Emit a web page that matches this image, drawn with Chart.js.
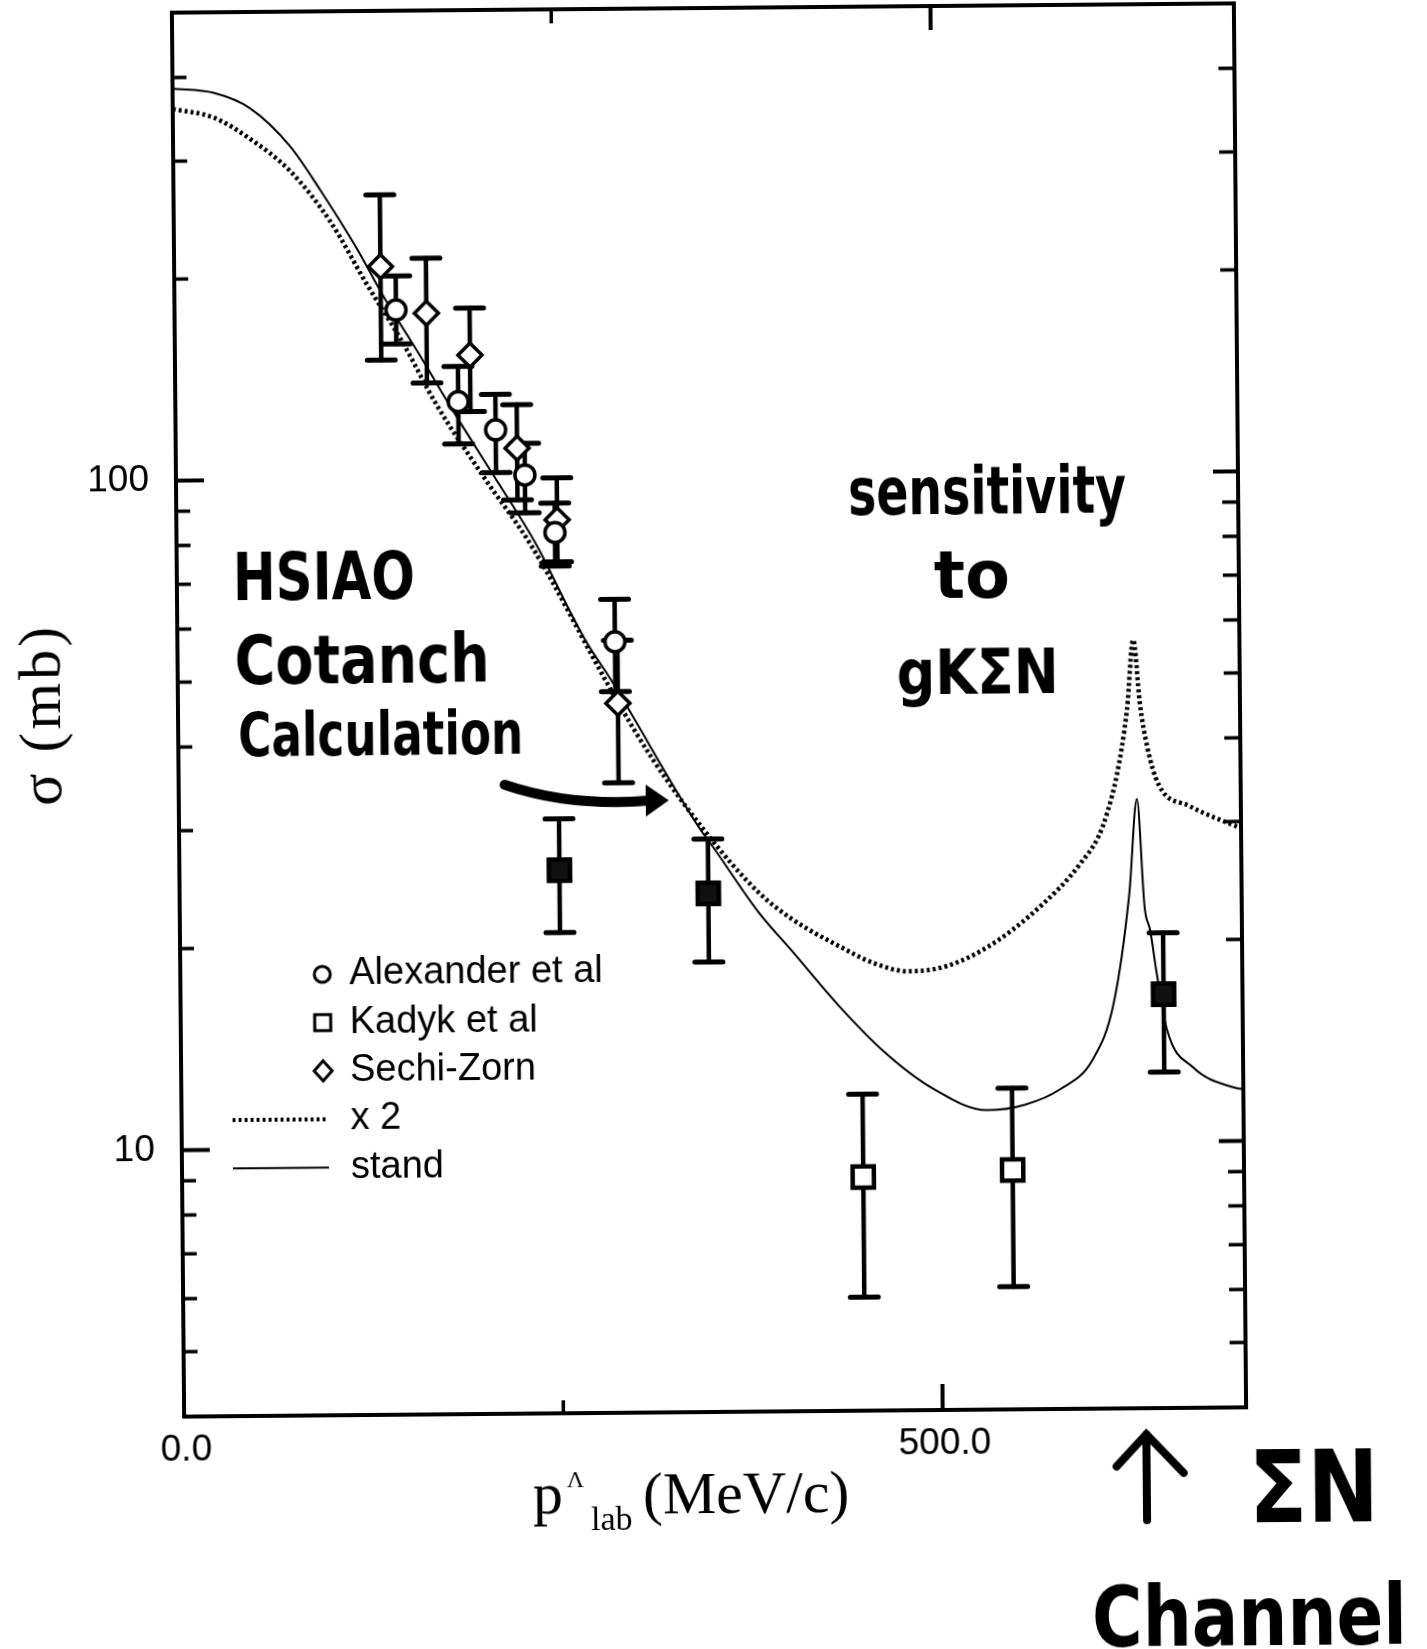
<!DOCTYPE html>
<html>
<head>
<meta charset="utf-8">
<title>Lambda p cross section</title>
<script src="https://cdn.jsdelivr.net/npm/chart.js@4.4.1/dist/chart.umd.min.js"></script>
<style>
  html, body { margin: 0; padding: 0; background: #fff; overflow: hidden; }
  #plot { position: absolute; left: 0; top: 0; transform: rotate(-0.5deg); transform-origin: 709px 710px; }
</style>
</head>
<body>
<canvas id="plot" width="1460" height="1700"></canvas>
<script>
// model curves, sigma (mb) against p_lab (MeV/c)
const standP = [0, 27, 51, 77, 97, 121, 138, 162, 184, 208, 237, 259, 270, 285, 343, 352, 382, 404, 434, 464, 495, 531, 556, 579, 601, 615, 626, 631.5, 636, 639.5, 643.5, 650, 667, 695, 700]
const standSigma = [385, 379, 359, 315, 270, 220, 187, 152, 125, 102, 79.5, 63, 56.5, 50, 29.8, 27.9, 22.2, 19.4, 16.1, 13.7, 12.1, 11.2, 11.4, 12.0, 13.3, 16.1, 23.5, 32.5, 22.4, 20.7, 17.9, 14.7, 12.9, 12.0, 11.95]

const doubleP = [0, 27, 51, 77, 103, 126, 150, 172, 202, 234, 289, 313, 347, 382, 404, 434, 458, 480, 505, 538, 580, 594, 606, 612, 618.5, 625.5, 630, 634, 638.5, 646, 666, 700]
const doubleSigma = [359, 348, 323, 289, 243, 197, 160, 129, 101, 79, 46.5, 37.7, 29.4, 23.8, 21.7, 19.8, 18.6, 18.1, 18.4, 20.0, 24.0, 26.1, 28.6, 31.1, 35.4, 44.2, 56.2, 45.2, 39, 34.1, 31.7, 29.3]

// measurements with error limits
const alexP = [146, 186.5, 211, 230, 249.5, 288.4]
const alexSigma = [178.6, 130.1, 117.9, 100.9, 82.7, 56.7]
const alexLo = [158.9, 112.5, 101.8, 88.6, 73.7, 47.8]
const alexHi = [200.9, 146.8, 133.3, 112.5, 91.5, 65.6]

const kadykP = [250.5, 348.5, 449, 547.5, 648]
const kadykSigma = [25.9, 23.8, 8.93, 9.11, 16.6]
const kadykLo = [20.9, 18.8, 5.91, 6.10, 12.7]
const kadykHi = [30.9, 28.7, 11.88, 12.07, 20.5]

const sechiP = [136, 166, 194.5, 225, 251, 290]
const sechiSigma = [207.5, 176.5, 152.7, 110.7, 86.4, 45.9]
const sechiLo = [150.5, 138.9, 125.7, 92.6, 74.8, 34.9]
const sechiHi = [265.5, 213.3, 179.4, 128.5, 99.8, 57]

const seriesNames = ['Alexander et al', 'Kadyk et al', 'Sechi-Zorn', 'x 2', 'stand']

// axes
const yMajor = [10, 100]
const yMajorLabels = ['10', '100']
const yMinor = [5, 6, 7, 8, 9, 20, 30, 40, 50, 60, 70, 80, 90, 200, 300, 400]
const xLabelled = [0, 500]
const xLabels = ['0.0', '500.0']
const xMajor = [500]
const xMinor = [250]

const pts = (xs, ys) => xs.map((x, i) => ({ x: x, y: ys[i] }))

function errorBars(ctx, xs, ys, p, lo, hi) {
  p.forEach((v, i) => {
    const px = xs.getPixelForValue(v)
    const top = ys.getPixelForValue(hi[i])
    const bot = ys.getPixelForValue(lo[i])
    ctx.lineWidth = 4.5
    ctx.beginPath(); ctx.moveTo(px, top); ctx.lineTo(px, bot); ctx.stroke()
    ctx.lineWidth = 5
    ctx.beginPath()
    ctx.moveTo(px - 14, top); ctx.lineTo(px + 14, top)
    ctx.moveTo(px - 14, bot); ctx.lineTo(px + 14, bot)
    ctx.stroke()
  })
}

function line(ctx, x1, y1, x2, y2) {
  ctx.beginPath(); ctx.moveTo(x1, y1); ctx.lineTo(x2, y2); ctx.stroke()
}

// marker-pen lettering, squeezed to the width it was written at
function hand(ctx, text, x, base, width, size) {
  ctx.save()
  ctx.font = 'bold ' + size + 'px "DejaVu Sans"'
  const w = ctx.measureText(text).width
  ctx.translate(x, base)
  ctx.scale(width / w, 1)
  ctx.textAlign = 'left'
  ctx.textBaseline = 'alphabetic'
  ctx.fillText(text, 0, 0)
  ctx.restore()
}

const framePlugin = {
  id: 'frame',
  beforeDatasetsDraw(chart) {
    const ctx = chart.ctx, xs = chart.scales.x, ys = chart.scales.y
    ctx.save()
    ctx.strokeStyle = '#000'
    ctx.lineCap = 'round'
    errorBars(ctx, xs, ys, alexP, alexLo, alexHi)
    errorBars(ctx, xs, ys, kadykP, kadykLo, kadykHi)
    errorBars(ctx, xs, ys, sechiP, sechiLo, sechiHi)
    ctx.restore()
  },
  afterDraw(chart) {
    const ctx = chart.ctx, xs = chart.scales.x, ys = chart.scales.y
    const { left, right, top, bottom } = chart.chartArea
    ctx.save()
    ctx.strokeStyle = '#000'
    ctx.fillStyle = '#000'

    // box and inward ticks
    ctx.lineWidth = 4
    ctx.strokeRect(left, top, right - left, bottom - top)
    yMajor.forEach(v => {
      const py = ys.getPixelForValue(v)
      line(ctx, left, py, left + 28, py)
      line(ctx, right, py, right - 25, py)
    })
    ctx.lineWidth = 3.5
    yMinor.forEach(v => {
      const py = ys.getPixelForValue(v)
      line(ctx, left, py, left + 14, py)
      line(ctx, right, py, right - 16, py)
    })
    ctx.lineWidth = 4
    xMajor.forEach(v => {
      const px = xs.getPixelForValue(v)
      line(ctx, px, bottom, px, bottom - 26)
      line(ctx, px, top, px, top + 24)
    })
    ctx.lineWidth = 3.5
    xMinor.forEach(v => {
      const px = xs.getPixelForValue(v)
      line(ctx, px, bottom, px, bottom - 13)
      line(ctx, px, top, px, top + 14)
    })

    // tick labels
    ctx.font = '37px "Liberation Sans", Arial'
    ctx.textAlign = 'right'
    ctx.textBaseline = 'middle'
    yMajor.forEach((v, i) => ctx.fillText(yMajorLabels[i], left - 27, ys.getPixelForValue(v)))
    ctx.textAlign = 'center'
    xLabelled.forEach((v, i) => ctx.fillText(xLabels[i], xs.getPixelForValue(v) + 2, bottom + 34))

    // axis titles
    ctx.font = '60px "Liberation Serif", "Times New Roman", serif'
    ctx.textAlign = 'left'
    ctx.textBaseline = 'alphabetic'
    ctx.fillText('p', 526, 1512)
    ctx.fillText('(MeV/c)', 636, 1513)
    ctx.font = '24px "Liberation Serif", serif'
    ctx.fillText('Λ', 560, 1486)
    ctx.font = '34px "Liberation Serif", serif'
    ctx.fillText('lab', 584, 1529)
    ctx.save()
    ctx.translate(44, 709)
    ctx.rotate(-Math.PI / 2)
    ctx.font = '60px "Liberation Serif", serif'
    ctx.letterSpacing = '3px'
    ctx.textAlign = 'center'
    ctx.textBaseline = 'middle'
    ctx.fillText('σ (mb)', 0, 0)
    ctx.restore()

    // key
    const kx = 320, tx = 347, ky = 971, step = 48.3
    ctx.lineWidth = 3
    ctx.fillStyle = '#fff'
    ctx.beginPath(); ctx.arc(kx, ky, 8, 0, Math.PI * 2); ctx.fill(); ctx.stroke()
    ctx.beginPath(); ctx.rect(kx - 8, ky + step - 8, 16, 16); ctx.fill(); ctx.stroke()
    const dy = ky + 2 * step
    ctx.beginPath(); ctx.moveTo(kx, dy - 10); ctx.lineTo(kx + 9, dy); ctx.lineTo(kx, dy + 10); ctx.lineTo(kx - 9, dy); ctx.closePath(); ctx.fill(); ctx.stroke()
    ctx.lineWidth = 4
    ctx.setLineDash([3, 3])
    line(ctx, 229, ky + 3 * step, 325, ky + 3 * step)
    ctx.setLineDash([])
    ctx.lineWidth = 2
    line(ctx, 229, ky + 4 * step, 325, ky + 4 * step)
    ctx.fillStyle = '#000'
    ctx.font = '38px "Liberation Sans", Arial'
    ctx.textAlign = 'left'
    ctx.textBaseline = 'middle'
    seriesNames.forEach((s, i) => ctx.fillText(s, tx, ky + i * step))

    // handwritten notes
    hand(ctx, 'HSIAO', 234, 596, 182, 66)
    hand(ctx, 'Cotanch', 235, 680, 255, 68)
    hand(ctx, 'Calculation', 238, 752, 285, 60)
    hand(ctx, 'sensitivity', 850, 516, 278, 66)
    hand(ctx, 'to', 935, 600, 76, 66)
    hand(ctx, 'gKΣN', 897, 696, 162, 62)
    hand(ctx, 'ΣN', 1242, 1527, 130, 100)
    hand(ctx, 'Channel', 1084, 1650, 315, 84)

    // pointer from the note to the curve
    ctx.lineCap = 'round'
    ctx.lineWidth = 10
    ctx.beginPath()
    ctx.moveTo(504, 783)
    ctx.quadraticCurveTo(570, 806, 648, 800)
    ctx.stroke()
    ctx.beginPath()
    ctx.moveTo(645, 784); ctx.lineTo(668, 800); ctx.lineTo(645, 816); ctx.closePath(); ctx.fill()

    // upward arrow at the Sigma N threshold
    ctx.lineWidth = 8
    ctx.beginPath()
    ctx.moveTo(1140, 1524); ctx.lineTo(1140, 1438)
    ctx.moveTo(1110, 1470); ctx.lineTo(1140, 1438); ctx.lineTo(1177, 1477)
    ctx.stroke()
    ctx.restore()
  }
}

new Chart(document.getElementById('plot'), {
  type: 'scatter',
  data: {
    datasets: [
      {
        label: seriesNames[0], data: pts(alexP, alexSigma),
        pointStyle: 'circle', pointRadius: 10, pointBorderWidth: 3.5,
        pointBackgroundColor: '#fff', pointBorderColor: '#000'
      },
      {
        label: seriesNames[1], data: pts(kadykP, kadykSigma),
        pointStyle: 'rect', pointRadius: 15, pointBorderWidth: 4.5,
        pointBackgroundColor: ['#111', '#111', '#fff', '#fff', '#111'], pointBorderColor: '#000'
      },
      {
        label: seriesNames[2], data: pts(sechiP, sechiSigma),
        pointStyle: 'rectRot', pointRadius: 12, pointBorderWidth: 3.5,
        pointBackgroundColor: '#fff', pointBorderColor: '#000'
      },
      {
        label: seriesNames[3], data: pts(doubleP, doubleSigma),
        showLine: true, pointRadius: 0, borderColor: '#000', borderWidth: 4.5,
        borderDash: [3, 3], cubicInterpolationMode: 'monotone'
      },
      {
        label: seriesNames[4], data: pts(standP, standSigma),
        showLine: true, pointRadius: 0, borderColor: '#000', borderWidth: 2,
        cubicInterpolationMode: 'monotone'
      }
    ]
  },
  options: {
    responsive: false,
    devicePixelRatio: 1,
    animation: false,
    events: [],
    layout: { autoPadding: false, padding: { left: 178, top: 8, right: 220, bottom: 288 } },
    scales: {
      x: { type: 'linear', min: 0, max: 700, display: false },
      y: { type: 'logarithmic', min: 4, max: 500, display: false }
    },
    plugins: { legend: { display: false }, tooltip: { enabled: false } }
  },
  plugins: [framePlugin]
})
</script>
</body>
</html>
